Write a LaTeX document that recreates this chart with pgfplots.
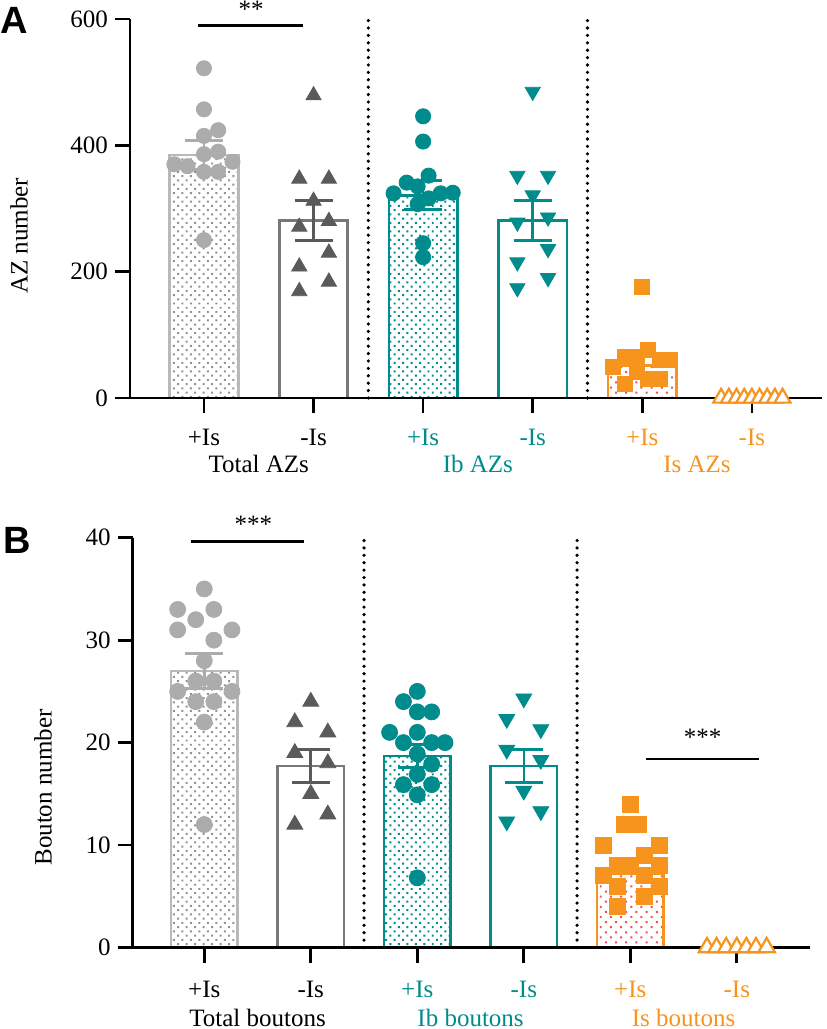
\documentclass[border=0pt]{standalone}
\usepackage{fontspec}
\setmainfont{Liberation Serif}
\newfontfamily\panelfont{Liberation Sans}
\usepackage{pgfplots}
\pgfplotsset{compat=1.18}
\usetikzlibrary{patterns.meta}

\definecolor{tealc}{RGB}{0,140,140}
\definecolor{orangec}{RGB}{247,148,30}
\definecolor{lgray}{RGB}{172,172,172}
\definecolor{lgrayb}{RGB}{185,185,185}
\definecolor{dgray}{RGB}{90,90,90}
\definecolor{mgray}{RGB}{120,120,120}
\definecolor{pinkd}{RGB}{240,80,80}

\tikzset{sepline/.style={line width=1.8pt, dash pattern=on 0pt off 3.7pt, line cap=round}}
\pgfplotsset{
  myaxis/.style={
    scale only axis, clip=false, axis on top,
    axis x line*=bottom, axis y line*=left,
    axis line style={line width=1.35pt, black, -},
    every outer x axis line/.append style={-},
    every outer y axis line/.append style={-},
    tick style={line width=1.35pt, black},
    major tick length=7.5pt, tick align=outside,
    xtick={0,1,2,3,4,5}, xticklabels={},
    ticklabel style={font=\fontsize{12.5}{14}\selectfont},
    /pgf/number format/assume math mode=true,
  },
  barsty/.style={ybar, bar width=0.625, bar shift=0pt, line width=1.3pt},
  errsty/.style={error bars/.cd, y dir=both, y explicit,
    error bar style={line width=1.3pt, draw=#1},
    error mark options={rotate=90, line width=1.3pt, mark size=9.5pt, draw=#1}},
}
\newcommand{\lbl}{\fontsize{12.5}{14}\selectfont}

\begin{document}
\begin{tikzpicture}
\path[use as bounding box] (0,0) rectangle (413pt,-514.5pt);

% ---------------- Panel A ----------------
\begin{axis}[myaxis,
  at={(65pt,-199pt)}, anchor=south west,
  width=346pt, height=189.5pt,
  xmin=-0.675, xmax=5.64, ymin=0, ymax=600,
  ytick={0,200,400,600}]
\draw[sepline] (axis cs:1.5,0) -- (axis cs:1.5,600);
\draw[sepline] (axis cs:3.5,0) -- (axis cs:3.5,600);

\addplot[barsty, draw=lgrayb, pattern={Dots[distance=3pt, angle=45, radius=0.7pt]}, pattern color=gray!85, errsty=lgray] coordinates {(0,385) +- (0,23)};
\addplot[barsty, draw=mgray, fill=white, errsty=dgray] coordinates {(1,281) +- (0,32)};
\addplot[barsty, draw=tealc, pattern={Dots[distance=3pt, angle=45, radius=0.7pt]}, pattern color=tealc, errsty=tealc] coordinates {(2,321) +- (0,23)};
\addplot[barsty, draw=tealc, fill=white, errsty=tealc] coordinates {(3,281) +- (0,32)};
\addplot[barsty, draw=orangec, pattern={Dots[distance=3.6pt, angle=45, radius=0.7pt]}, pattern color=pinkd] coordinates {(4,51)};

\addplot[only marks, mark=*, mark size=3.8pt, mark options={fill=lgray, draw=lgray}] coordinates {
(0,522) (0,457) (0.13,424) (0,415) (0.13,390) (0,386) (-0.27,370) (-0.15,367) (0.26,374) (0,358) (0.13,358) (0,250)};
\addplot[only marks, mark=triangle*, mark size=4.4pt, mark options={fill=dgray, draw=dgray}] coordinates {
(1,479) (0.87,347) (1.14,347) (1,312) (0.87,271) (1.14,280) (1.14,230) (0.87,208) (1.14,184) (0.87,169)};
\addplot[only marks, mark=*, mark size=3.8pt, mark options={fill=tealc, draw=tealc}] coordinates {
(2,446) (2,406) (2.05,352) (1.85,341) (1.95,335) (1.73,324) (2.27,325) (2.16,324) (2.05,316) (1.95,307) (2,245) (2,223)};
\addplot[only marks, mark=triangle*, mark size=4.4pt, mark options={rotate=180, fill=tealc, draw=tealc}] coordinates {
(3,485) (2.86,352) (3.14,352) (3,321) (2.86,278) (3.14,286) (3.14,236) (2.86,215) (3.14,190) (2.86,174)};
\addplot[only marks, mark=square*, mark size=3.75pt, mark options={fill=orangec, draw=orangec}] coordinates {
(4,176) (4.05,76) (3.84,65) (3.95,65) (4.25,60) (4.16,60) (3.73,50) (3.95,42) (4.05,31) (4.16,31) (3.84,23)};
\addplot[only marks, mark=triangle*, mark size=4.6pt, mark options={fill=white, draw=orangec, line width=1.1pt}] coordinates {
(4.72,0) (4.79,0) (4.86,0) (4.93,0) (5,0) (5.07,0) (5.14,0) (5.21,0) (5.28,0)};

\draw[line width=1.35pt] (axis cs:-0.05,590) -- (axis cs:0.9,590);
\node[anchor=base, font=\lbl] at (axis cs:0.43,602) {**};

\node[anchor=base, font=\lbl, yshift=-23.5pt] at (axis cs:0,0) {+Is};
\node[anchor=base, font=\lbl, yshift=-23.5pt] at (axis cs:1,0) {-Is};
\node[anchor=base, font=\lbl, text=tealc, yshift=-23.5pt] at (axis cs:2,0) {+Is};
\node[anchor=base, font=\lbl, text=tealc, yshift=-23.5pt] at (axis cs:3,0) {-Is};
\node[anchor=base, font=\lbl, text=orangec, yshift=-23.5pt] at (axis cs:4,0) {+Is};
\node[anchor=base, font=\lbl, text=orangec, yshift=-23.5pt] at (axis cs:5,0) {-Is};
\node[anchor=base, font=\lbl, yshift=-37.2pt] at (axis cs:0.5,0) {Total AZs};
\node[anchor=base, font=\lbl, text=tealc, yshift=-37.2pt] at (axis cs:2.5,0) {Ib AZs};
\node[anchor=base, font=\lbl, text=orangec, yshift=-37.2pt] at (axis cs:4.5,0) {Is AZs};
\end{axis}

% ---------------- Panel B ----------------
\begin{axis}[myaxis,
  at={(66.35pt,-473.75pt)}, anchor=south west,
  width=338.65pt, height=204.9pt,
  xmin=-0.672, xmax=5.687, ymin=0, ymax=40,
  ytick={0,10,20,30,40}]
\draw[sepline] (axis cs:1.5,0) -- (axis cs:1.5,40);
\draw[sepline] (axis cs:3.5,0) -- (axis cs:3.5,40);

\addplot[barsty, draw=lgrayb, pattern={Dots[distance=3pt, angle=45, radius=0.7pt]}, pattern color=gray!85, errsty=lgray] coordinates {(0,27.0) +- (0,1.7)};
\addplot[barsty, draw=mgray, fill=white, errsty=dgray] coordinates {(1,17.7) +- (0,1.6)};
\addplot[barsty, draw=tealc, pattern={Dots[distance=3pt, angle=45, radius=0.7pt]}, pattern color=tealc, errsty=tealc] coordinates {(2,18.7) +- (0,1.1)};
\addplot[barsty, draw=tealc, fill=white, errsty=tealc] coordinates {(3,17.7) +- (0,1.6)};
\addplot[barsty, draw=orangec, pattern={Dots[distance=3.6pt, angle=45, radius=0.7pt]}, pattern color=pinkd] coordinates {(4,7.2)};

\addplot[only marks, mark=*, mark size=4pt, mark options={fill=lgray, draw=lgray}] coordinates {
(0,35) (-0.25,33) (0.09,33) (-0.08,32) (-0.25,31) (0.26,31) (0.09,30) (0,28) (-0.08,26) (0.09,26) (-0.25,25) (0.26,25) (-0.08,24) (0.09,24) (0,22) (0,12)};
\addplot[only marks, mark=triangle*, mark size=4.6pt, mark options={fill=dgray, draw=dgray}] coordinates {
(1,24) (0.85,22) (1.16,21) (0.85,19) (1.16,18) (1,15) (1.16,13) (0.85,12)};
\addplot[only marks, mark=*, mark size=4pt, mark options={fill=tealc, draw=tealc}] coordinates {
(2,25) (1.87,24) (2,23) (2.135,23) (1.74,21) (2,21) (1.87,20) (2.135,20) (2.26,20) (2,18.9) (2.135,17.9) (2,16.9) (1.87,15.9) (2.135,15.9) (2,14.9) (2,6.8)};
\addplot[only marks, mark=triangle*, mark size=4.6pt, mark options={rotate=180, fill=tealc, draw=tealc}] coordinates {
(3,24.3) (2.84,22.3) (3.16,21.3) (2.84,19.3) (3.16,18.3) (3,15.3) (3.16,13.3) (2.84,12.3)};
\addplot[only marks, mark=square*, mark size=4pt, mark options={fill=orangec, draw=orangec}] coordinates {
(4,14) (3.94,12) (4.08,12) (3.75,10) (4.27,10) (4.13,9) (3.875,8) (4,8) (4.27,8) (3.75,7) (4.13,7) (3.875,6) (4.27,6) (4.13,5) (3.875,4)};
\addplot[only marks, mark=triangle*, mark size=4.8pt, mark options={fill=white, draw=orangec, line width=1.1pt}] coordinates {
(4.72,0) (4.81,0) (4.90,0) (5,0) (5.09,0) (5.18,0) (5.28,0)};

\draw[line width=1.35pt] (axis cs:-0.12,39.6) -- (axis cs:0.94,39.6);
\node[anchor=base, font=\lbl] at (axis cs:0.46,40.5) {***};
\draw[line width=1.35pt] (axis cs:4.15,18.4) -- (axis cs:5.21,18.4);
\node[anchor=base, font=\lbl] at (axis cs:4.68,19.7) {***};

\node[anchor=base, font=\lbl, yshift=-25pt] at (axis cs:0,0) {+Is};
\node[anchor=base, font=\lbl, yshift=-25pt] at (axis cs:1,0) {-Is};
\node[anchor=base, font=\lbl, text=tealc, yshift=-25pt] at (axis cs:2,0) {+Is};
\node[anchor=base, font=\lbl, text=tealc, yshift=-25pt] at (axis cs:3,0) {-Is};
\node[anchor=base, font=\lbl, text=orangec, yshift=-25pt] at (axis cs:4,0) {+Is};
\node[anchor=base, font=\lbl, text=orangec, yshift=-25pt] at (axis cs:5,0) {-Is};
\node[anchor=base, font=\lbl, yshift=-39.5pt] at (axis cs:0.5,0) {Total boutons};
\node[anchor=base, font=\lbl, text=tealc, yshift=-39.5pt] at (axis cs:2.5,0) {Ib boutons};
\node[anchor=base, font=\lbl, text=orangec, yshift=-39.5pt] at (axis cs:4.5,0) {Is boutons};
\end{axis}

\node[font=\panelfont\bfseries\fontsize{19}{19}\selectfont] at (7pt,-10pt) {A};
\node[font=\panelfont\bfseries\fontsize{19}{19}\selectfont] at (8.5pt,-270pt) {B};
\node[rotate=90, font=\lbl] at (9.5pt,-118pt) {AZ number};
\node[rotate=90, font=\lbl] at (21.5pt,-393.75pt) {Bouton number};
\end{tikzpicture}
\end{document}
